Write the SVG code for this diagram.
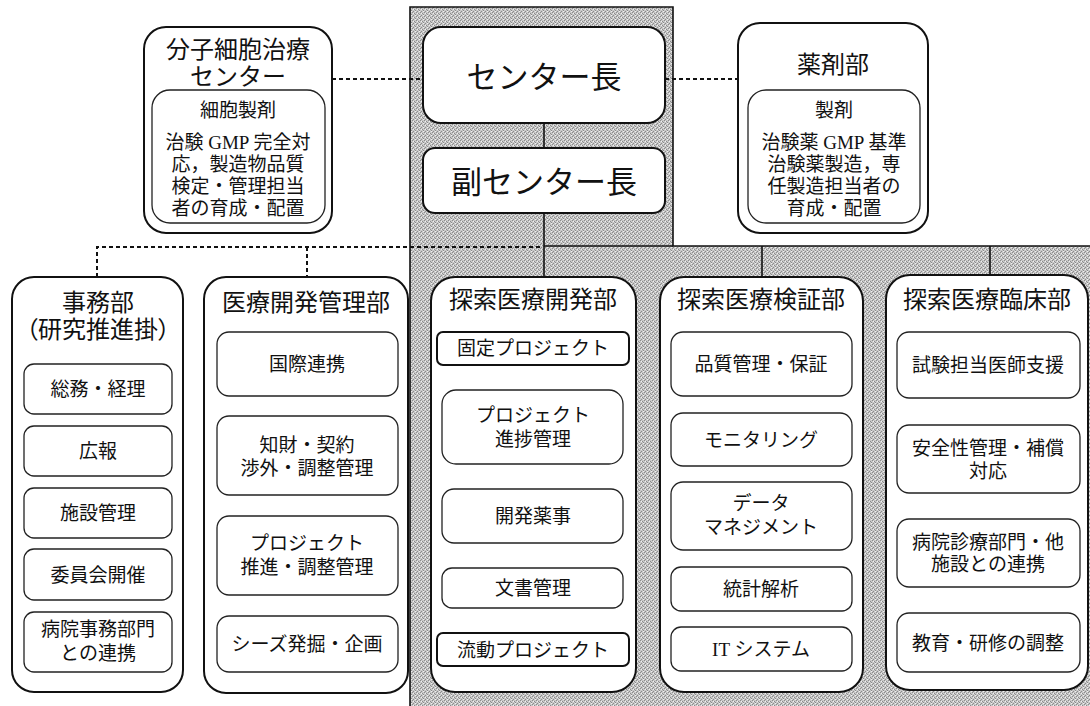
<svg xmlns="http://www.w3.org/2000/svg" width="1090" height="706" viewBox="0 0 1090 706">
  <style>
    text { font-family: "Liberation Serif", "Noto Sans CJK JP", serif; fill: #111; text-anchor: middle; dominant-baseline: central; }
    .t-title { font-size: 24px; }
    .t-head { font-size: 31px; }
    .t-item { font-size: 19px; }
    .outer { fill: #fff; stroke: #111; stroke-width: 2; }
    .inner { fill: #fff; stroke: #222; stroke-width: 1.3; }
    .fixed { fill: #fff; stroke: #111; stroke-width: 2; }
    .solid { stroke: #111; stroke-width: 1.6; fill: none; }
    .dotted { stroke: #111; stroke-width: 2; fill: none; stroke-dasharray: 4 3; }
    .band { fill: url(#screen); stroke: #111; stroke-width: 1.6; }
    .palt { font-feature-settings: "palt"; }
  </style>

  <defs>
    <!-- fine screen tone for the shaded area -->
    <pattern id="screen" patternUnits="userSpaceOnUse" width="4" height="4">
      <rect width="4" height="4" fill="#c8c8c8"/>
      <rect x="0" y="0" width="1" height="1" fill="#8c8c8c"/>
      <rect x="2" y="1" width="1" height="1" fill="#8c8c8c"/>
      <rect x="1" y="3" width="1" height="1" fill="#8c8c8c"/>
      <rect x="3" y="2" width="1" height="1" fill="#8c8c8c"/>
      <rect x="1" y="1" width="1" height="1" fill="#f0f0f0"/>
      <rect x="3" y="3" width="1" height="1" fill="#f0f0f0"/>
    </pattern>
  </defs>

  <!-- shaded area: director's office and the three exploratory departments -->
  <path class="band" d="M410,7 H673 V246 H1091 V707 H410 Z"/>

  <!-- connectors -->
  <g id="connectors">
    <line class="dotted" x1="332" y1="79" x2="423" y2="79"/>
    <line class="dotted" x1="665" y1="79" x2="738" y2="79"/>
    <line class="solid" x1="544" y1="123" x2="544" y2="148"/>
    <line class="solid" x1="544" y1="213" x2="544" y2="277"/>
    <line class="solid" x1="544" y1="246" x2="673" y2="246"/>
    <line class="solid" x1="762" y1="246" x2="762" y2="277"/>
    <line class="solid" x1="990" y1="246" x2="990" y2="275"/>
    <polyline class="dotted" points="97,277 97,247 543,247"/>
    <line class="dotted" x1="307" y1="247" x2="307" y2="277"/>
  </g>

  <!-- 分子細胞治療センター -->
  <g id="node-cell-therapy">
    <rect class="outer" x="144" y="27" width="188" height="206" rx="22"/>
    <text class="t-title" x="238" y="50">分子細胞治療</text>
    <text class="t-title" x="238" y="77">センター</text>
    <rect class="inner" x="152" y="90" width="173" height="133" rx="18"/>
    <text class="t-item" x="238" y="110">細胞製剤</text>
    <text class="t-item" x="238" y="142">治験 GMP 完全対</text>
    <text class="t-item" x="238" y="164">応，製造物品質</text>
    <text class="t-item" x="238" y="186">検定・管理担当</text>
    <text class="t-item" x="238" y="208">者の育成・配置</text>
  </g>

  <!-- センター長 -->
  <g id="node-director">
    <rect class="outer" x="423" y="27" width="242" height="96" rx="18"/>
    <text class="t-head" x="544" y="77">センター長</text>
  </g>

  <!-- 副センター長 -->
  <g id="node-deputy">
    <rect class="outer" x="423" y="148" width="242" height="65" rx="12"/>
    <text class="t-head" x="544" y="182">副センター長</text>
  </g>

  <!-- 薬剤部 -->
  <g id="node-pharmacy">
    <rect class="outer" x="738" y="23" width="190" height="210" rx="22"/>
    <text class="t-title" x="833" y="65">薬剤部</text>
    <rect class="inner" x="748" y="90" width="172" height="133" rx="18"/>
    <text class="t-item" x="834" y="110">製剤</text>
    <text class="t-item" x="834" y="142">治験薬 GMP 基準</text>
    <text class="t-item" x="834" y="164">治験薬製造，専</text>
    <text class="t-item" x="834" y="186">任製造担当者の</text>
    <text class="t-item" x="834" y="208">育成・配置</text>
  </g>

  <!-- 事務部（研究推進掛） -->
  <g id="node-admin">
    <rect class="outer" x="12" y="277" width="171" height="415" rx="22"/>
    <text class="t-title" x="98" y="303">事務部</text>
    <text class="t-title palt" x="98" y="330">（研究推進掛）</text>
    <rect class="inner" x="24" y="364" width="148" height="50" rx="10"/>
    <text class="t-item" x="98" y="389">総務・経理</text>
    <rect class="inner" x="24" y="426" width="148" height="50" rx="10"/>
    <text class="t-item" x="98" y="451">広報</text>
    <rect class="inner" x="24" y="488" width="148" height="50" rx="10"/>
    <text class="t-item" x="98" y="513">施設管理</text>
    <rect class="inner" x="24" y="549" width="148" height="51" rx="10"/>
    <text class="t-item" x="98" y="575">委員会開催</text>
    <rect class="inner" x="24" y="612" width="148" height="60" rx="10"/>
    <text class="t-item" x="98" y="629">病院事務部門</text>
    <text class="t-item" x="98" y="653">との連携</text>
  </g>

  <!-- 医療開発管理部 -->
  <g id="node-dev-management">
    <rect class="outer" x="204" y="277" width="204" height="416" rx="22"/>
    <text class="t-title" x="306" y="303">医療開発管理部</text>
    <rect class="inner" x="217" y="332" width="181" height="64" rx="12"/>
    <text class="t-item" x="307" y="364">国際連携</text>
    <rect class="inner" x="217" y="416" width="181" height="79" rx="12"/>
    <text class="t-item" x="307" y="445">知財・契約</text>
    <text class="t-item" x="307" y="468">渉外・調整管理</text>
    <rect class="inner" x="217" y="516" width="181" height="79" rx="12"/>
    <text class="t-item" x="307" y="543">プロジェクト</text>
    <text class="t-item" x="307" y="567">推進・調整管理</text>
    <rect class="inner" x="217" y="616" width="181" height="56" rx="12"/>
    <text class="t-item" x="307" y="644">シーズ発掘・企画</text>
  </g>

  <!-- 探索医療開発部 -->
  <g id="node-exploratory-dev">
    <rect class="outer" x="431" y="277" width="205" height="415" rx="24"/>
    <text class="t-title" x="533" y="300">探索医療開発部</text>
    <rect class="fixed" x="437" y="332" width="192" height="33" rx="6"/>
    <text class="t-item" x="533" y="348">固定プロジェクト</text>
    <rect class="inner" x="442" y="390" width="181" height="74" rx="14"/>
    <text class="t-item" x="533" y="415">プロジェクト</text>
    <text class="t-item" x="533" y="439">進捗管理</text>
    <rect class="inner" x="442" y="489" width="181" height="54" rx="12"/>
    <text class="t-item" x="533" y="516">開発薬事</text>
    <rect class="inner" x="442" y="568" width="181" height="40" rx="10"/>
    <text class="t-item" x="533" y="588">文書管理</text>
    <rect class="fixed" x="437" y="633" width="192" height="33" rx="6"/>
    <text class="t-item" x="533" y="650">流動プロジェクト</text>
  </g>

  <!-- 探索医療検証部 -->
  <g id="node-exploratory-verify">
    <rect class="outer" x="660" y="277" width="203" height="415" rx="24"/>
    <text class="t-title" x="761" y="300">探索医療検証部</text>
    <rect class="inner" x="671" y="332" width="181" height="64" rx="12"/>
    <text class="t-item" x="761" y="364">品質管理・保証</text>
    <rect class="inner" x="671" y="413" width="181" height="53" rx="12"/>
    <text class="t-item" x="761" y="440">モニタリング</text>
    <rect class="inner" x="671" y="482" width="181" height="68" rx="12"/>
    <text class="t-item" x="761" y="503">データ</text>
    <text class="t-item" x="761" y="527">マネジメント</text>
    <rect class="inner" x="671" y="567" width="181" height="44" rx="10"/>
    <text class="t-item" x="761" y="589">統計解析</text>
    <rect class="inner" x="671" y="627" width="181" height="44" rx="10"/>
    <text class="t-item" x="761" y="649">IT システム</text>
  </g>

  <!-- 探索医療臨床部 -->
  <g id="node-exploratory-clinical">
    <rect class="outer" x="886" y="275" width="202" height="415" rx="24"/>
    <text class="t-title" x="987" y="300">探索医療臨床部</text>
    <rect class="inner" x="897" y="332" width="183" height="66" rx="12"/>
    <text class="t-item" x="988" y="365">試験担当医師支援</text>
    <rect class="inner" x="897" y="425" width="183" height="68" rx="12"/>
    <text class="t-item" x="988" y="448">安全性管理・補償</text>
    <text class="t-item" x="988" y="471">対応</text>
    <rect class="inner" x="897" y="519" width="183" height="68" rx="12"/>
    <text class="t-item" x="988" y="542">病院診療部門・他</text>
    <text class="t-item" x="988" y="564">施設との連携</text>
    <rect class="inner" x="897" y="613" width="183" height="59" rx="12"/>
    <text class="t-item" x="988" y="643">教育・研修の調整</text>
  </g>
</svg>
